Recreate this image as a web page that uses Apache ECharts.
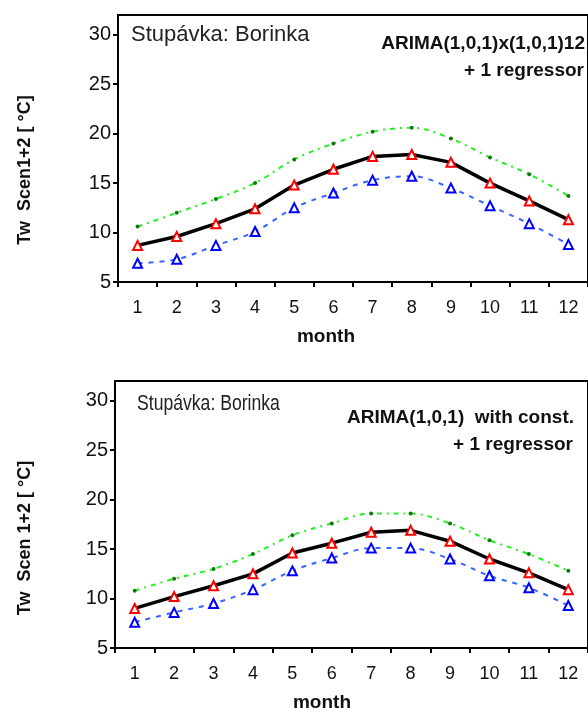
<!DOCTYPE html>
<html>
<head>
<meta charset="utf-8">
<script src="https://cdn.jsdelivr.net/npm/echarts@6/dist/echarts.min.js"></script>
<style>
html,body{margin:0;padding:0;background:#fff;}
#chart{width:588px;height:715px;}
</style>
</head>
<body>
<div id="chart"></div>
<script>
var months = ['1','2','3','4','5','6','7','8','9','10','11','12'];
var yTicks = [5, 10, 15, 20, 25, 30];

// Top panel: ARIMA(1,0,1)x(1,0,1)12 + 1 regressor
var upper1 = [10.6, 12.0, 13.4, 15.0, 17.4, 19.0, 20.2, 20.6, 19.5, 17.6, 15.9, 13.7];
var mean1  = [8.7, 9.6, 10.9, 12.4, 14.8, 16.4, 17.7, 17.9, 17.1, 15.0, 13.2, 11.3];
var lower1 = [6.9, 7.3, 8.7, 10.1, 12.5, 14.0, 15.3, 15.7, 14.5, 12.7, 10.9, 8.8];

// Bottom panel: ARIMA(1,0,1) with const. + 1 regressor
var upper2 = [10.8, 12.0, 13.0, 14.5, 16.4, 17.6, 18.6, 18.6, 17.6, 15.9, 14.5, 12.8];
var mean2  = [9.0, 10.2, 11.3, 12.5, 14.6, 15.6, 16.7, 16.9, 15.8, 14.0, 12.6, 10.9];
var lower2 = [7.6, 8.6, 9.5, 10.9, 12.8, 14.1, 15.1, 15.1, 14.0, 12.3, 11.1, 9.3];

var FONT = 'Liberation Sans';

function xAx(gi) {
  return {
    type: 'category', gridIndex: gi, data: months, boundaryGap: true,
    axisLine: {show: true, lineStyle: {color: '#000', width: 2}},
    axisTick: {show: true, length: 5, lineStyle: {color: '#000', width: 2}},
    axisLabel: {color: '#111', fontSize: 18, fontFamily: FONT, margin: 17},
    splitLine: {show: false}
  };
}
function yAx(gi) {
  return {
    type: 'value', gridIndex: gi, min: 5, max: 32, interval: 5,
    axisLine: {show: true, lineStyle: {color: '#000', width: 2}},
    axisTick: {show: true, length: 5, customValues: yTicks, lineStyle: {color: '#000', width: 2}},
    axisLabel: {color: '#111', fontSize: 20, fontFamily: FONT, margin: 7, customValues: yTicks,
      formatter: function (v) { return v > 30 ? '' : String(v); }},
    splitLine: {show: false}
  };
}
function seriesSet(gi, up, mn, lo) {
  return [
    {type: 'line', xAxisIndex: gi, yAxisIndex: gi, data: up, smooth: 0.35, z: 2,
      symbol: 'circle', symbolSize: 4,
      itemStyle: {color: '#0a7a0a'},
      lineStyle: {color: '#22ee22', width: 2, type: [5, 5, 2, 5]}},
    {type: 'line', xAxisIndex: gi, yAxisIndex: gi, data: lo, smooth: 0.35, z: 2,
      symbol: 'triangle', symbolSize: 9,
      itemStyle: {color: '#fff', borderColor: '#0000ff', borderWidth: 2},
      lineStyle: {color: '#3366ff', width: 2, type: [5, 6]}},
    {type: 'line', xAxisIndex: gi, yAxisIndex: gi, data: mn, smooth: false, z: 3,
      symbol: 'triangle', symbolSize: 9,
      itemStyle: {color: '#fff', borderColor: '#ff0000', borderWidth: 2},
      lineStyle: {color: '#000', width: 3.5}}
  ];
}

var chart = echarts.init(document.getElementById('chart'), null, {renderer: 'canvas'});
chart.setOption({
  animation: false,
  backgroundColor: '#fff',
  grid: [
    {left: 118, top: 15, width: 480, height: 267, show: true, borderColor: '#000', borderWidth: 2, backgroundColor: 'transparent'},
    {left: 115, top: 381, width: 477, height: 267, show: true, borderColor: '#000', borderWidth: 2, backgroundColor: 'transparent'}
  ],
  xAxis: [xAx(0), xAx(1)],
  yAxis: [yAx(0), yAx(1)],
  series: seriesSet(0, upper1, mean1, lower1).concat(seriesSet(1, upper2, mean2, lower2)),
  graphic: [
    {type: 'text', x: 131, y: 35, style: {text: 'Stupávka: Borinka', font: '22px "Liberation Sans"', fill: '#222', textVerticalAlign: 'middle'}},
    {type: 'text', x: 585, y: 44, style: {text: 'ARIMA(1,0,1)x(1,0,1)12', font: 'bold 19px "Liberation Sans"', fill: '#111', textAlign: 'right', textVerticalAlign: 'middle'}},
    {type: 'text', x: 584, y: 71, style: {text: '+ 1 regressor', font: 'bold 19px "Liberation Sans"', fill: '#111', textAlign: 'right', textVerticalAlign: 'middle'}},
    {type: 'text', x: 326, y: 337, style: {text: 'month', font: 'bold 19px "Liberation Sans"', fill: '#111', textAlign: 'center', textVerticalAlign: 'middle'}},
    {type: 'text', x: 25, y: 170, rotation: Math.PI / 2, style: {text: 'Tw  Scen1+2 [ °C]', font: 'bold 18px "Liberation Sans"', fill: '#111', textAlign: 'center', textVerticalAlign: 'middle'}},

    {type: 'text', x: 137, y: 404, scaleX: 0.8, style: {text: 'Stupávka: Borinka', font: '22px "Liberation Sans"', fill: '#222', textVerticalAlign: 'middle'}},
    {type: 'text', x: 574, y: 418, style: {text: 'ARIMA(1,0,1)  with const.', font: 'bold 19px "Liberation Sans"', fill: '#111', textAlign: 'right', textVerticalAlign: 'middle'}},
    {type: 'text', x: 573, y: 445, style: {text: '+ 1 regressor', font: 'bold 19px "Liberation Sans"', fill: '#111', textAlign: 'right', textVerticalAlign: 'middle'}},
    {type: 'text', x: 322, y: 703, style: {text: 'month', font: 'bold 19px "Liberation Sans"', fill: '#111', textAlign: 'center', textVerticalAlign: 'middle'}},
    {type: 'text', x: 25, y: 538, rotation: Math.PI / 2, style: {text: 'Tw  Scen 1+2 [ °C]', font: 'bold 18px "Liberation Sans"', fill: '#111', textAlign: 'center', textVerticalAlign: 'middle'}}
  ]
});
</script>
</body>
</html>
